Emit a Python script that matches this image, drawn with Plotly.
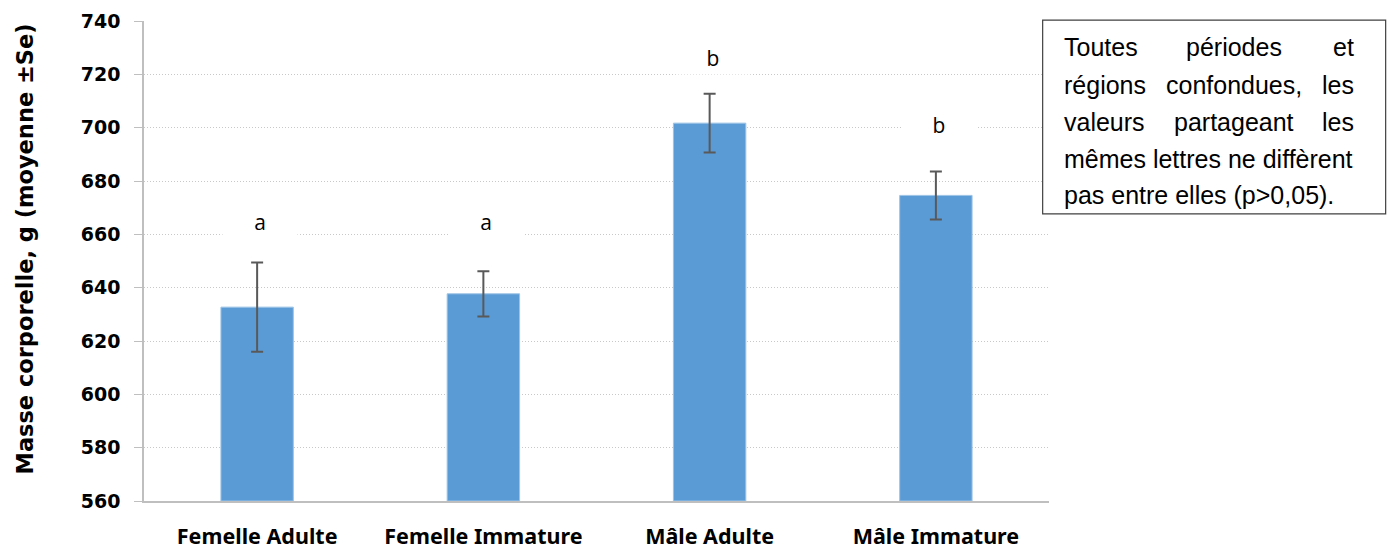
import plotly.graph_objects as go

# data
categories = ['Femelle Adulte', 'Femelle Immature', 'Mâle Adulte', 'Mâle Immature']
mean_mass = [632.7, 637.7, 701.7, 674.6]
se_mass = [16.7, 8.5, 11.0, 9.0]
group_letters = ['a', 'a', 'b', 'b']
letter_y = [664.5, 664.5, 726.0, 701.0]

note_lines = [
    'Toutes périodes et',
    'régions confondues, les',
    'valeurs partageant les',
    'mêmes lettres ne diffèrent',
    'pas entre elles (p>0,05).',
]

fig = go.Figure()

fig.add_trace(go.Bar(
    x=categories,
    y=[m - 560 for m in mean_mass],
    base=560,
    width=0.32,
    marker=dict(color='#5b9bd5', line=dict(color='#9dc3e6', width=1)),
    error_y=dict(type='data', array=se_mass, visible=True,
                 color='#595959', thickness=2, width=6),
    hoverinfo='skip',
))

# significance letters, white background hides the gridlines like in Excel
for cat, letter, ly in zip(categories, group_letters, letter_y):
    fig.add_annotation(
        x=cat, y=ly, text=letter, showarrow=False, xshift=3,
        font=dict(family='Open Sans', size=21, color='#000000'),
        bgcolor='white', width=72, height=30,
    )

# y axis title (placed by hand, it sits a bit above the centre in the reference)
fig.add_annotation(
    xref='paper', yref='paper', x=-0.1315, y=0.526,
    text='Masse corporelle, g (moyenne ±Se)', textangle=-90,
    showarrow=False, xanchor='center', yanchor='middle',
    font=dict(family='DejaVu Sans', size=22.5, color='#000000', weight='bold'),
)

# note box on the right (justified text, placed word by word)
fig.add_shape(type='rect', xref='paper', yref='paper',
              x0=0.993, x1=1.372, y0=0.598, y1=1.002,
              line=dict(color='#404040', width=1.2), fillcolor='white')

note_font = dict(family='Liberation Sans, Arial', size=25, color='#000000')
line_y = [0.945, 0.866, 0.789, 0.712, 0.637]
x_left, x_right = 1.0144, 1.3392
mid_x = [1.2044, 1.204, 1.204]
for i, line in enumerate(note_lines):
    words = line.split(' ')
    if i < 3:
        placed = [(x_left, words[0], 'left'), (mid_x[i], words[1], 'center'),
                  (x_right, words[2], 'right')]
    else:
        placed = [(x_left, line, 'left')]
    for px, txt, anchor in placed:
        fig.add_annotation(xref='paper', yref='paper', x=px, y=line_y[i],
                           text=txt, xanchor=anchor, yanchor='middle',
                           showarrow=False, font=note_font)

fig.update_layout(
    width=1388, height=549,
    margin=dict(l=144, r=339, t=21, b=48, autoexpand=False),
    paper_bgcolor='white', plot_bgcolor='white',
    showlegend=False,
    font=dict(family='Noto Sans', color='#000000'),
    xaxis=dict(
        showgrid=False, showline=True, linecolor='#bfbfbf', linewidth=1.5,
        ticks='', ticklabelstandoff=15, automargin=False,
        tickfont=dict(family='Noto Sans', size=21.5, color='#000000', weight='bold'),
    ),
    yaxis=dict(
        range=[560, 740], dtick=20, showgrid=True,
        gridcolor='#c8c8c8', griddash='1px,2px', gridwidth=1,
        showline=True, linecolor='#bfbfbf', linewidth=1.5,
        ticks='outside', ticklen=8, tickcolor='#bfbfbf',
        ticklabelstandoff=10, automargin=False,
        tickfont=dict(family='DejaVu Sans', size=19, color='#000000', weight='bold'),
        zeroline=False,
    ),
)

fig.write_html('out.html', config={'displayModeBar': False},
               post_script="document.body.style.margin='0';")
